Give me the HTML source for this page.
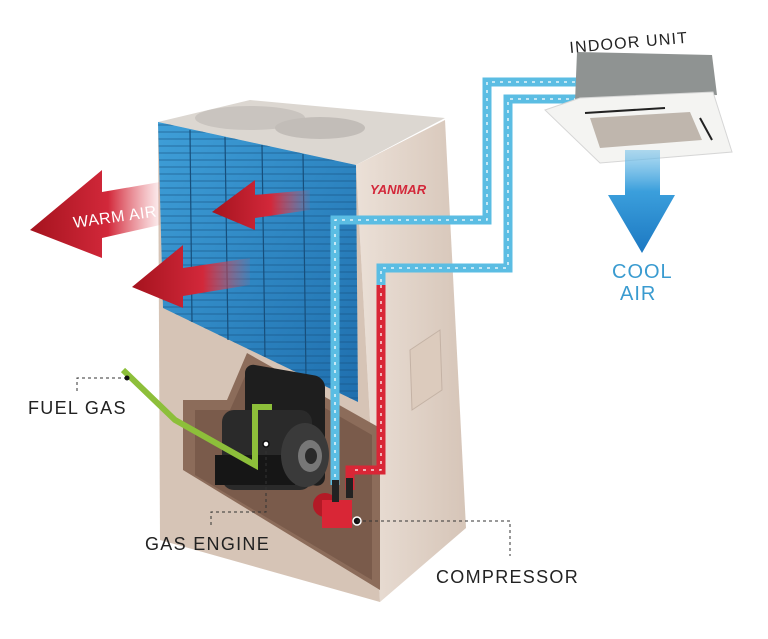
<!DOCTYPE html>
<html><head><meta charset="utf-8"><style>
html,body{margin:0;padding:0;background:#fff;}
svg{display:block}
text{font-family:"Liberation Sans",sans-serif;}
</style></head><body>
<svg width="768" height="639" viewBox="0 0 768 639" xmlns="http://www.w3.org/2000/svg">
<defs>
<linearGradient id="coil" x1="0" y1="0" x2="1" y2="1">
<stop offset="0" stop-color="#3f9fd8"/><stop offset="1" stop-color="#1f6fae"/></linearGradient>
<linearGradient id="side" x1="0" y1="0" x2="1" y2="0">
<stop offset="0" stop-color="#ebe0d7"/><stop offset="1" stop-color="#d6c5b8"/></linearGradient>
<linearGradient id="warm" x1="0" y1="0" x2="1" y2="0">
<stop offset="0" stop-color="#a5131e"/><stop offset="0.6" stop-color="#d2283a"/><stop offset="1" stop-color="#e05560" stop-opacity="0.1"/></linearGradient>
<linearGradient id="cool" x1="0" y1="0" x2="0" y2="1">
<stop offset="0" stop-color="#7cc4ea" stop-opacity="0.6"/><stop offset="0.4" stop-color="#3b9fdc"/><stop offset="1" stop-color="#1c78c2"/></linearGradient>
<pattern id="fins" width="8" height="7" patternUnits="userSpaceOnUse">
<rect width="8" height="7" fill="none"/><line x1="0" y1="6" x2="8" y2="6" stroke="#16507f" stroke-width="1"/></pattern>
</defs>

<polygon points="158,122 250,100 445,118 356,165" fill="#dcd7d1"/>
<ellipse cx="250" cy="118" rx="55" ry="12" fill="#c9c4bf"/>
<ellipse cx="320" cy="128" rx="45" ry="11" fill="#c2bdb8"/>
<polygon points="356,165 445,120 466,528 380,602" fill="url(#side)"/>
<polygon points="410,350 440,330 442,390 412,410" fill="#dccbbd" stroke="#c4b2a5"/>
<polygon points="158,122 356,165 380,602 160,540" fill="#d6c4b6"/>
<polygon points="158,122 356,165 358,402 163,308" fill="url(#coil)"/>
<polygon points="158,122 356,165 358,402 163,308" fill="url(#fins)" opacity="0.6"/>
<g stroke="#174f7c" stroke-width="1.2">
<line x1="190" y1="130" x2="192" y2="322"/><line x1="225" y1="137" x2="228" y2="340"/>
<line x1="262" y1="145" x2="265" y2="357"/><line x1="303" y1="154" x2="306" y2="377"/>
</g>
<polygon points="183,400 227,400 247,353 380,428 380,590 183,470" fill="#8c6c5a"/>
<polygon points="195,410 230,410 250,365 372,435 372,580 195,475" fill="#7a5b4b"/>
<rect x="245" y="365" width="80" height="110" rx="10" fill="#1e1e1e" transform="skewY(10) translate(0,-45)"/>
<rect x="222" y="410" width="90" height="80" rx="12" fill="#2a2a2a"/>
<rect x="215" y="455" width="80" height="30" fill="#161616"/>
<ellipse cx="305" cy="455" rx="24" ry="32" fill="#3a3a3a"/>
<ellipse cx="310" cy="456" rx="12" ry="16" fill="#777"/>
<ellipse cx="311" cy="456" rx="6" ry="8" fill="#2a2a2a"/>
<polyline points="123,370 175,420 255,465 255,407 272,407" fill="none" stroke="#8dbf3a" stroke-width="6"/>
<g fill="none" stroke="#5bbde3" stroke-width="9">
<polyline points="335,485 335,220 487,220 487,82 578,82"/>
<polyline points="381,290 381,268 508,268 508,99 578,99"/>
</g>
<g fill="none" stroke="#fff" stroke-width="1.3" stroke-dasharray="3,5">
<polyline points="335,485 335,220 487,220 487,82 578,82"/>
<polyline points="381,290 381,268 508,268 508,99 578,99"/>
</g>
<polyline points="381,285 381,470 350,470 350,490" fill="none" stroke="#d92636" stroke-width="9"/>
<polyline points="381,285 381,470 355,470" fill="none" stroke="#fff" stroke-width="1.3" stroke-dasharray="3,5"/>
<circle cx="325" cy="505" r="12" fill="#b31a26"/>
<rect x="322" y="500" width="30" height="28" fill="#d92636"/>
<rect x="332" y="480" width="7" height="22" fill="#222"/>
<rect x="346" y="478" width="7" height="20" fill="#222"/>
<circle cx="357" cy="521" r="4" fill="#111" stroke="#fff" stroke-width="1.5"/>
<text x="370" y="194" font-size="13" font-weight="bold" font-style="italic" fill="#d3283a">YANMAR</text>
<polygon points="30,230 102,170 102,192 160,182 160,225 102,238 102,258" fill="url(#warm)"/>
<text x="74" y="228" font-size="16" fill="#fff" letter-spacing="0.5" transform="rotate(-8 74 228)">WARM AIR</text>
<polygon points="132,287 183,245 183,268 250,258 250,285 183,296 183,308" fill="url(#warm)"/>
<polygon points="212,212 255,180 255,195 310,190 310,210 255,218 255,230" fill="url(#warm)"/>
<polygon points="577,52 712,55 717,95 575,102" fill="#8f9392"/>
<polygon points="545,110 580,98 713,92 732,152 600,163" fill="#f4f4f2" stroke="#d6d6d6"/>
<polygon points="590,118 690,112 702,140 600,148" fill="#bfb6ad"/>
<line x1="585" y1="113" x2="665" y2="108" stroke="#222" stroke-width="2"/>
<line x1="700" y1="118" x2="712" y2="140" stroke="#222" stroke-width="2"/>
<polygon points="625,150 660,150 660,195 675,195 642,253 608,195 625,195" fill="url(#cool)"/>
<text x="612" y="278" font-size="20" letter-spacing="1" fill="#3a9bd0">COOL</text>
<text x="620" y="300" font-size="20" letter-spacing="1" fill="#3a9bd0">AIR</text>
<text x="570" y="53" font-size="16" letter-spacing="1.2" fill="#222" transform="rotate(-5 570 53)">INDOOR UNIT</text>
<g fill="none" stroke="#333" stroke-width="1" stroke-dasharray="3,3">
<polyline points="127,378 77,378 77,392"/>
<polyline points="266,445 266,512 211,512 211,526"/>
<polyline points="357,521 510,521 510,556"/>
</g>
<circle cx="127" cy="378" r="2.5" fill="#111"/>
<circle cx="266" cy="444" r="3" fill="#fff" stroke="#111" stroke-width="1.5"/>
<text x="28" y="414" font-size="18" letter-spacing="1.3" fill="#222">FUEL GAS</text>
<text x="145" y="550" font-size="18" letter-spacing="1.3" fill="#222">GAS ENGINE</text>
<text x="436" y="583" font-size="18" letter-spacing="1.3" fill="#222">COMPRESSOR</text>
</svg>
</body></html>
